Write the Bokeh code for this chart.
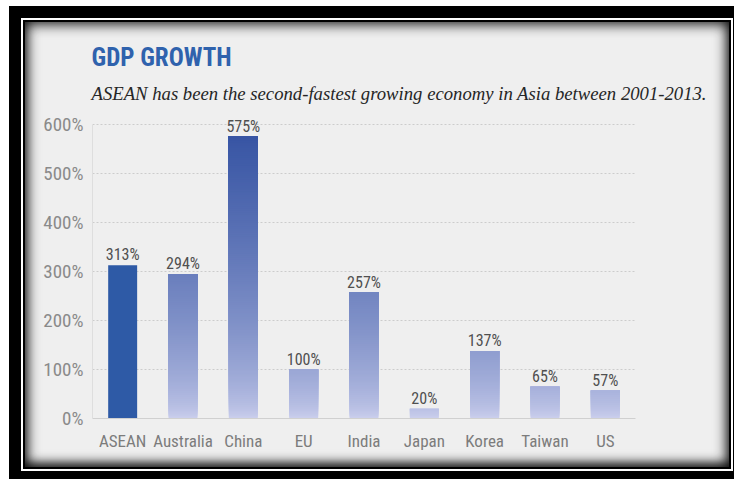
from bokeh.plotting import figure
from bokeh.models import (FactorRange, Range1d, FixedTicker, Title, LabelSet, ColumnDataSource)
from bokeh.core.properties import value
from bokeh.embed import file_html
from bokeh.resources import INLINE

# ---------------- data ----------------
categories = ["ASEAN", "Australia", "China", "EU", "India", "Japan", "Korea", "Taiwan", "US"]
growth_pct = [313, 294, 575, 100, 257, 20, 137, 65, 57]
highlight = "ASEAN"
y_ticks = [0, 100, 200, 300, 400, 500, 600]
y_tick_labels = ["0%", "100%", "200%", "300%", "400%", "500%", "600%"]
title_text = "GDP GROWTH"
subtitle_text = "ASEAN has been the second-fastest growing economy in Asia between 2001-2013."

# ---------------- style ----------------
SANS = "'Roboto Condensed', 'DejaVu Sans Condensed', sans-serif"
SERIF = "'Liberation Serif', 'DejaVu Serif', serif"
PANEL = "#efefef"

# panel occupies page x 25..729, y 22..467
p = figure(x_range=FactorRange(*categories), y_range=Range1d(0, 624.5),
           width=704, height=445, output_backend="svg", toolbar_location=None,
           min_border_left=67, min_border_right=94, min_border_top=90, min_border_bottom=49,
           border_fill_color=None, background_fill_color=None, outline_line_color=None)
p.margin = (22, 0, 0, 25)
p.styles = {
    "background-color": PANEL,
    "box-shadow": ("0 0 0 2px #000, 0 0 0 4px #fff, 0 0 0 16px #000, "
                   "inset 0 0 13px 2px rgba(0,0,0,0.95), "
                   "inset 0 -5px 10px -2px rgba(0,0,0,0.55)"),
}


# ---------------- bars ----------------
def grad_color(v):
    t = (v / 600.0) ** 0.6
    c0 = (207, 210, 239)
    c1 = (52, 82, 162)
    return "#%02x%02x%02x" % tuple(round(a + (b - a) * t) for a, b in zip(c0, c1))


step = 4
xs, bots, tops, cols = [], [], [], []
for cat, v in zip(categories, growth_pct):
    if cat == highlight:
        continue
    b = 0
    while b < v:
        xs.append(cat)
        bots.append(b)
        tops.append(v)
        cols.append(grad_color(min(b + step / 2, v)))
        b += step
strips = ColumnDataSource(dict(x=xs, bottom=bots, top=tops, color=cols))
p.vbar(x="x", bottom="bottom", top="top", width=0.48, fill_color="color",
       line_color=None, source=strips)

hi_val = growth_pct[categories.index(highlight)]
p.vbar(x=[highlight], top=[hi_val], width=0.48, fill_color="#2e5aa6", line_color=None)

lab_src = ColumnDataSource(dict(x=categories, y=growth_pct, text=[f"{v}%" for v in growth_pct]))
p.add_layout(LabelSet(x="x", y="y", text="text", source=lab_src, y_offset=5,
                      text_align="center", text_baseline="alphabetic",
                      text_font=value(SANS), text_font_size="16px", text_color="#505050"))

# ---------------- axes / grid ----------------
p.xaxis.axis_line_color = "#d0d0d0"
p.xaxis.major_tick_line_color = None
p.xaxis.minor_tick_line_color = None
p.xaxis.major_tick_out = 0
p.xaxis.major_tick_in = 0
p.xaxis.major_label_standoff = 12
p.xaxis.major_label_text_font = SANS
p.xaxis.major_label_text_font_size = "17px"
p.xaxis.major_label_text_color = "#7c7c7c"

p.yaxis.ticker = FixedTicker(ticks=y_ticks)
p.yaxis.bounds = (0, 600)
p.yaxis.major_label_overrides = dict(zip(y_ticks, y_tick_labels))
p.yaxis.axis_line_color = "#dedede"
p.yaxis.major_tick_line_color = None
p.yaxis.minor_tick_line_color = None
p.yaxis.major_tick_out = 0
p.yaxis.major_tick_in = 0
p.yaxis.major_label_standoff = 9
p.yaxis.major_label_text_font = SANS
p.yaxis.major_label_text_font_size = "19px"
p.yaxis.major_label_text_color = "#8a8a8a"

p.xgrid.grid_line_color = None
p.ygrid.ticker = FixedTicker(ticks=[t for t in y_ticks if t > 0])
p.ygrid.grid_line_color = "#cccccc"
p.ygrid.grid_line_dash = "2 2"

# ---------------- titles (first added sits closest to the frame) ----------------
p.add_layout(Title(text=subtitle_text, align="left", offset=-1, standoff=18,
                   text_font=SERIF, text_font_style="italic", text_font_size="18.7px",
                   text_color="#262626"), "above")
p.add_layout(Title(text=title_text, align="left", offset=-1, standoff=0,
                   text_font=SANS, text_font_style="bold", text_font_size="25px",
                   text_color="#2f62ad"), "above")

open("out.html", "w").write(file_html(p, INLINE))
